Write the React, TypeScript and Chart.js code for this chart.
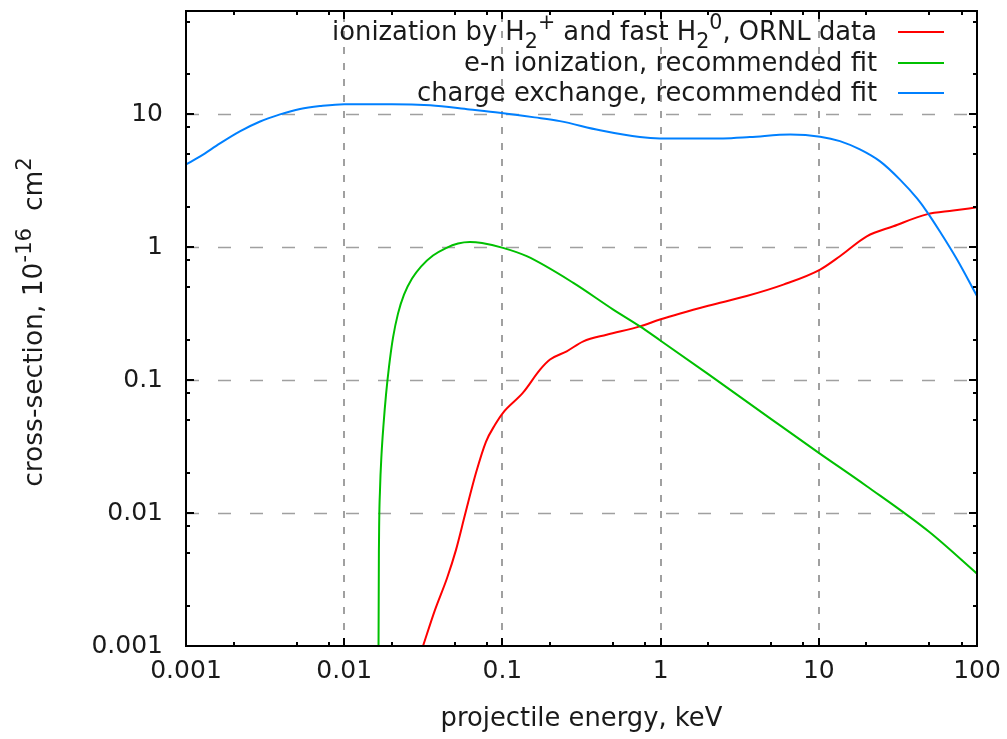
import { useEffect, useRef } from 'react';
import { Chart, registerables } from 'chart.js';

Chart.register(...registerables);

// ---- data (energy in keV, cross-section in 1e-16 cm^2) ----
const redEnergy = [0.0315, 0.0375, 0.0447, 0.0509, 0.058, 0.0681, 0.0787, 0.0898, 0.1009, 0.135, 0.173, 0.2, 0.255, 0.325, 0.456, 0.741, 0.99, 2.0, 3.5, 5.97, 10.2, 13.6, 20.1, 29.6, 48.1, 70.8, 100];
const redSigma = [0.001, 0.00187, 0.00325, 0.00529, 0.0097, 0.0201, 0.0344, 0.0462, 0.0569, 0.0805, 0.12, 0.143, 0.165, 0.196, 0.22, 0.254, 0.286, 0.363, 0.43, 0.524, 0.68, 0.857, 1.21, 1.44, 1.77, 1.89, 2.0];

const greenEnergy = [0.01645, 0.01648, 0.0166, 0.01684, 0.01721, 0.01772, 0.01838, 0.0192, 0.02035, 0.02188, 0.02388, 0.02684, 0.03058, 0.03642, 0.044, 0.05241, 0.0624, 0.0743, 0.1009, 0.1425, 0.2808, 0.502, 0.741, 0.99, 2, 5, 10, 20, 50, 100];
const greenSigma = [0.0001, 0.001, 0.00629, 0.01496, 0.02747, 0.04622, 0.07779, 0.1264, 0.209, 0.317, 0.4407, 0.5816, 0.7161, 0.8667, 0.9871, 1.067, 1.095, 1.076, 0.99, 0.857, 0.54, 0.34, 0.254, 0.2, 0.111, 0.051, 0.0284, 0.016, 0.0072, 0.0035];

const blueEnergy = [0.001, 0.00123, 0.00164, 0.00219, 0.00294, 0.00393, 0.00526, 0.00703, 0.01, 0.02, 0.035, 0.062, 0.096, 0.16, 0.231, 0.414, 0.74, 0.99, 2.48, 3.67, 6.6, 10.2, 13.6, 18.2, 24.4, 32.6, 41.8, 48.3, 58.4, 74.8, 100];
const blueSigma = [4.2, 4.83, 6.05, 7.45, 8.85, 10.0, 10.98, 11.55, 11.95, 11.95, 11.7, 10.9, 10.3, 9.5, 8.9, 7.6, 6.75, 6.6, 6.6, 6.75, 7.05, 6.8, 6.3, 5.45, 4.43, 3.23, 2.33, 1.85, 1.31, 0.81, 0.43];

const xTickValues = [0.001, 0.01, 0.1, 1, 10, 100];
const xTickLabels = ['0.001', '0.01', '0.1', '1', '10', '100'];
const yTickValues = [0.001, 0.01, 0.1, 1, 10];
const yTickLabels = ['0.001', '0.01', '0.1', '1', '10'];
const minorMultipliers = [2, 5, 8];

const X_MIN = 0.001, X_MAX = 100, Y_MIN = 0.001, Y_MAX = 60;

const COLORS = { red: '#ff0000', green: '#00c000', blue: '#0080ff' };
const FONT_FAMILY = "'DejaVu Sans', sans-serif";
const FS_TICK = 25;
const FS_TEXT = 25.8;
const TEXT_COLOR = '#1a1a1a';

type Seg = { t: string; k?: 'sub' | 'sup' };

const legendRows: { segs: Seg[]; color: string }[] = [
  {
    segs: [
      { t: 'ionization by H' }, { t: '2', k: 'sub' }, { t: '+', k: 'sup' },
      { t: ' and fast H' }, { t: '2', k: 'sub' }, { t: '0', k: 'sup' }, { t: ', ORNL data' },
    ],
    color: COLORS.red,
  },
  { segs: [{ t: 'e-n ionization, recommended fit' }], color: COLORS.green },
  { segs: [{ t: 'charge exchange, recommended fit' }], color: COLORS.blue },
];

const yTitle: Seg[] = [{ t: 'cross-section, 10' }, { t: '-16', k: 'sup' }, { t: '  cm' }, { t: '2', k: 'sup' }];
const xTitle: Seg[] = [{ t: 'projectile energy, keV' }];

function segFont(s: Seg, fs: number) {
  const size = s.k ? fs * 0.8 : fs;
  return `${size}px ${FONT_FAMILY}`;
}

function drawRich(ctx: CanvasRenderingContext2D, segs: Seg[], x: number, y: number, align: 'left' | 'right' | 'center', fs: number) {
  const widths = segs.map((s) => {
    ctx.font = segFont(s, fs);
    return ctx.measureText(s.t).width;
  });
  const total = widths.reduce((a, b) => a + b, 0);
  let cx = align === 'right' ? x - total : align === 'center' ? x - total / 2 : x;
  ctx.textAlign = 'left';
  ctx.textBaseline = 'alphabetic';
  segs.forEach((s, i) => {
    ctx.font = segFont(s, fs);
    const dy = s.k === 'sub' ? fs * 0.3 : s.k === 'sup' ? -fs * 0.42 : 0;
    ctx.fillText(s.t, cx, y + dy);
    cx += widths[i];
  });
}

const gnuplotPlugin = {
  id: 'gnuplotLook',
  beforeDatasetsDraw(chart: any) {
    const { ctx, chartArea: a, scales } = chart;
    const xs = scales.x, ys = scales.y;
    ctx.save();
    ctx.beginPath();
    ctx.rect(a.left, a.top, a.right - a.left, a.bottom - a.top);
    ctx.clip();
    ctx.strokeStyle = '#a0a0a0';
    // horizontal grid
    ctx.lineWidth = 1.5;
    ctx.setLineDash([13, 19]);
    yTickValues.forEach((v) => {
      if (v <= Y_MIN) return;
      const py = Math.round(ys.getPixelForValue(v)) + 0.5;
      ctx.beginPath();
      ctx.moveTo(a.left, py);
      ctx.lineTo(a.right, py);
      ctx.stroke();
    });
    // vertical grid
    ctx.lineWidth = 2;
    ctx.setLineDash([7, 9]);
    xTickValues.forEach((v) => {
      if (v <= X_MIN || v >= X_MAX) return;
      const px = Math.round(xs.getPixelForValue(v));
      ctx.beginPath();
      ctx.moveTo(px, a.bottom);
      ctx.lineTo(px, a.top);
      ctx.stroke();
    });
    ctx.restore();
  },
  afterDatasetsDraw(chart: any) {
    const { ctx, chartArea: a, scales } = chart;
    const xs = scales.x, ys = scales.y;
    ctx.save();
    ctx.setLineDash([]);
    ctx.strokeStyle = '#000';
    ctx.lineWidth = 2;
    // border
    ctx.strokeRect(a.left, a.top, a.right - a.left, a.bottom - a.top);
    const MAJ = 8, MIN = 4;
    const tickX = (v: number, len: number) => {
      const px = Math.round(xs.getPixelForValue(v));
      ctx.beginPath();
      ctx.moveTo(px, a.bottom); ctx.lineTo(px, a.bottom - len);
      ctx.moveTo(px, a.top); ctx.lineTo(px, a.top + len);
      ctx.stroke();
    };
    const tickY = (v: number, len: number) => {
      const py = Math.round(ys.getPixelForValue(v));
      ctx.beginPath();
      ctx.moveTo(a.left, py); ctx.lineTo(a.left + len, py);
      ctx.moveTo(a.right, py); ctx.lineTo(a.right - len, py);
      ctx.stroke();
    };
    xTickValues.forEach((v) => {
      tickX(v, MAJ);
      minorMultipliers.forEach((m) => { const mv = v * m; if (mv < X_MAX) tickX(mv, MIN); });
    });
    yTickValues.forEach((v) => {
      tickY(v, MAJ);
      minorMultipliers.forEach((m) => { const mv = v * m; if (mv < Y_MAX) tickY(mv, MIN); });
    });

    // legend
    const rowBase = [40, 70.5, 101];
    legendRows.forEach((row, i) => {
      ctx.fillStyle = TEXT_COLOR;
      drawRich(ctx, row.segs, 877, rowBase[i], 'right', FS_TEXT);
      ctx.strokeStyle = row.color;
      ctx.lineWidth = 2;
      ctx.beginPath();
      const ly = Math.round(rowBase[i] - 8);
      ctx.moveTo(898, ly);
      ctx.lineTo(944, ly);
      ctx.stroke();
    });

    // axis titles
    ctx.fillStyle = TEXT_COLOR;
    drawRich(ctx, xTitle, (a.left + a.right) / 2, 726, 'center', FS_TEXT);
    ctx.save();
    ctx.translate(42, 322);
    ctx.rotate(-Math.PI / 2);
    drawRich(ctx, yTitle, 0, 0, 'center', 26.5);
    ctx.restore();
    ctx.restore();
  },
};

function toPoints(xs: number[], ys: number[]) {
  return xs.map((x, i) => ({ x, y: ys[i] }));
}

export default function App() {
  const ref = useRef<HTMLCanvasElement | null>(null);
  useEffect(() => {
    if (!ref.current) return;
    const common = { borderWidth: 2, pointRadius: 0, fill: false, cubicInterpolationMode: 'monotone' as const };
    const chart = new Chart(ref.current, {
      type: 'line',
      data: {
        datasets: [
          { label: 'red', data: toPoints(redEnergy, redSigma), borderColor: COLORS.red, order: 3, ...common },
          { label: 'green', data: toPoints(greenEnergy, greenSigma), borderColor: COLORS.green, order: 2, ...common },
          { label: 'blue', data: toPoints(blueEnergy, blueSigma), borderColor: COLORS.blue, order: 1, ...common },
        ],
      },
      options: {
        responsive: false,
        animation: false,
        parsing: false as any,
        layout: { padding: { top: 11, right: 30, left: 0, bottom: 0 } },
        plugins: { legend: { display: false }, tooltip: { enabled: false }, title: { display: false } },
        scales: {
          x: {
            type: 'logarithmic',
            min: X_MIN,
            max: X_MAX,
            afterBuildTicks: (s: any) => { s.ticks = xTickValues.map((v) => ({ value: v })); },
            afterFit: (s: any) => { s.height = 93; s.paddingLeft = 0; s.paddingRight = 0; s.paddingTop = 0; s.paddingBottom = 0; },
            grid: { display: false, drawTicks: false },
            border: { display: false },
            ticks: {
              autoSkip: false,
              maxRotation: 0,
              padding: 10,
              color: TEXT_COLOR,
              font: { family: FONT_FAMILY, size: FS_TICK },
              callback: (_v: any, i: number) => xTickLabels[i],
            },
          },
          y: {
            type: 'logarithmic',
            min: Y_MIN,
            max: Y_MAX,
            afterBuildTicks: (s: any) => { s.ticks = yTickValues.map((v) => ({ value: v })); },
            afterFit: (s: any) => { s.width = 186; s.paddingLeft = 0; s.paddingRight = 0; s.paddingTop = 0; s.paddingBottom = 0; },
            grid: { display: false, drawTicks: false },
            border: { display: false },
            ticks: {
              autoSkip: false,
              padding: 23,
              color: TEXT_COLOR,
              font: { family: FONT_FAMILY, size: FS_TICK },
              callback: (_v: any, i: number) => yTickLabels[i],
            },
          },
        },
      },
      plugins: [gnuplotPlugin],
    } as any);
    return () => chart.destroy();
  }, []);
  return (
    <div style={{ position: 'absolute', left: 0, top: 0, width: 1007, height: 739, background: '#fff' }}>
      <canvas ref={ref} width={1007} height={739} style={{ position: 'absolute', left: 0, top: 0 }} />
    </div>
  );
}
